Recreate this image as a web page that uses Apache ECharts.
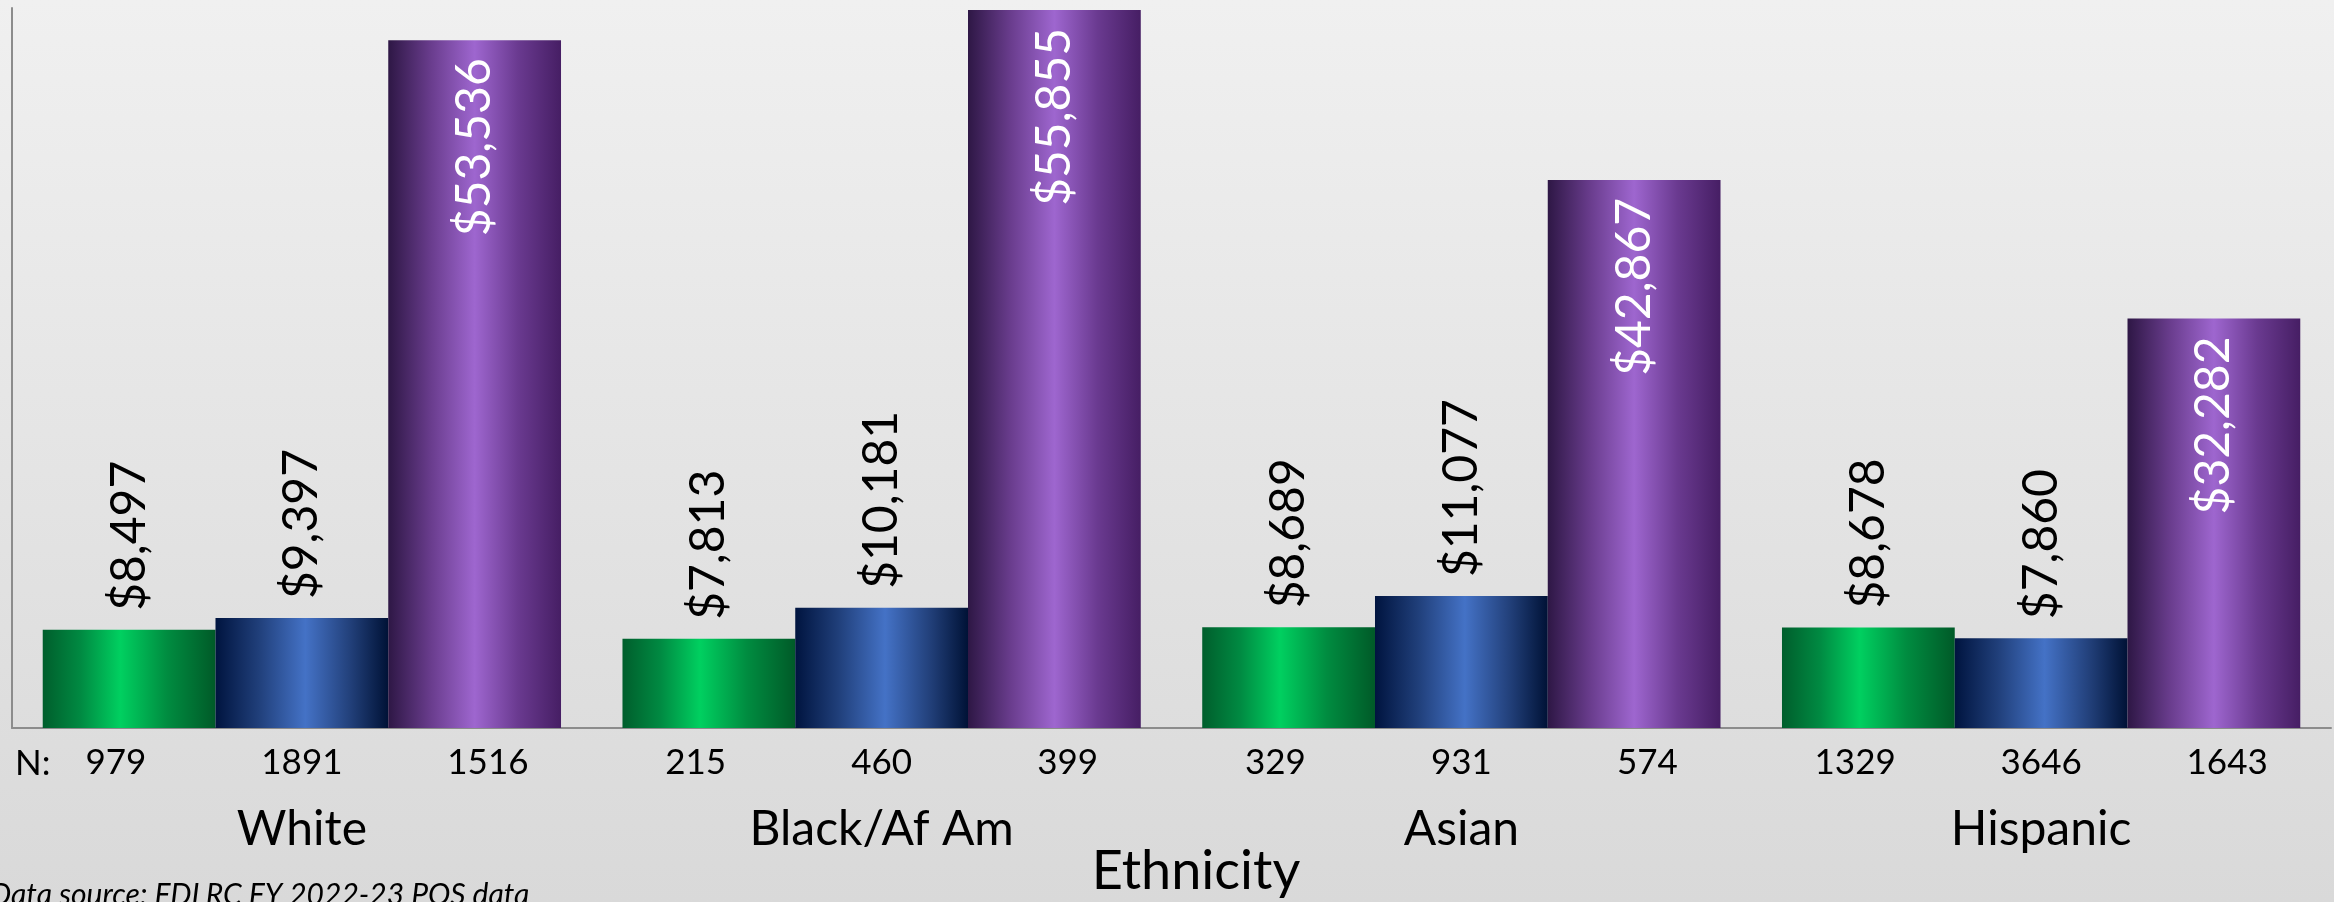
<!DOCTYPE html>
<html>
<head>
<meta charset="utf-8">
<script src="https://cdn.jsdelivr.net/npm/echarts@6/dist/echarts.min.js"></script>
<style>
  html, body { margin: 0; padding: 0; }
  #chart { width: 2334px; height: 902px; }
</style>
</head>
<body>
<div id="chart"></div>
<script>
// Average POS spend per person, by ethnicity, for three groups
const categories = ['White', 'Black/Af Am', 'Asian', 'Hispanic'];
const group1Spend = [8497, 7813, 8689, 8678];
const group2Spend = [9397, 10181, 11077, 7860];
const group3Spend = [53536, 55855, 42867, 32282];

// Number of people (N) behind each bar
const group1Count = [979, 215, 329, 1329];
const group2Count = [1891, 460, 931, 3646];
const group3Count = [1516, 399, 574, 1643];

const axisName = 'Ethnicity';
const sourceNote = 'Data source: FDLRC FY 2022-23 POS data';

const FONT = 'Futura, "Century Gothic", "Tw Cen MT", Lato, sans-serif';

function metal(stops) {
  return {
    type: 'linear', x: 0, y: 0, x2: 1, y2: 0,
    colorStops: stops.map(([offset, color]) => ({ offset, color }))
  };
}

const greenFill = metal([[0, '#005e2c'], [0.22, '#008a42'], [0.45, '#00d060'], [0.72, '#008c40'], [1, '#005a28']]);
const blueFill = metal([[0, '#00143f'], [0.25, '#203f7a'], [0.52, '#4472c6'], [0.78, '#22407a'], [1, '#001236']]);
const purpleFill = metal([[0, '#2e1745'], [0.25, '#6a3d8e'], [0.5, '#9e66cf'], [0.75, '#6a3a90'], [1, '#461e64']]);

const money = v => '$' + v.toLocaleString('en-US');

const outsideLabel = {
  show: true,
  position: 'top',
  rotate: 90,
  align: 'left',
  verticalAlign: 'middle',
  distance: 19,
  color: '#000',
  fontFamily: FONT,
  fontSize: 48,
  formatter: p => money(p.value)
};

const insideLabel = {
  show: true,
  position: 'insideTop',
  rotate: 90,
  align: 'right',
  verticalAlign: 'middle',
  distance: 18,
  color: '#fff',
  fontFamily: FONT,
  fontSize: 48,
  formatter: p => money(p.value)
};

const chart = echarts.init(document.getElementById('chart'), null, { renderer: 'canvas' });

chart.setOption({
  animation: false,
  backgroundColor: {
    type: 'linear', x: 0, y: 0, x2: 0, y2: 1,
    colorStops: [{ offset: 0, color: '#f0f0f0' }, { offset: 1, color: '#d9d9d9' }]
  },
  textStyle: { fontFamily: FONT },
  grid: { left: 12, right: 3, top: 8, bottom: 174, containLabel: false, outerBoundsMode: 'none' },
  xAxis: {
    type: 'category',
    data: categories,
    axisTick: { show: false },
    axisLine: { lineStyle: { color: '#8c8c8c', width: 2 } },
    axisLabel: {
      interval: 0,
      margin: 15,
      color: '#000',
      fontFamily: FONT,
      formatter: (value, i) =>
        `{n|${group1Count[i]}}{n|${group2Count[i]}}{n|${group3Count[i]}}\n{c|${value}}`,
      rich: {
        n: { width: 186, align: 'center', fontSize: 35, lineHeight: 40, color: '#000', fontFamily: FONT },
        c: { fontSize: 48, lineHeight: 94, color: '#000', fontFamily: FONT }
      }
    }
  },
  yAxis: {
    type: 'value',
    min: 1000,
    max: 56000,
    axisLine: { show: true, lineStyle: { color: '#8c8c8c', width: 2 } },
    axisTick: { show: false },
    axisLabel: { show: false },
    splitLine: { show: false }
  },
  series: [
    { name: 'Group 1', type: 'bar', data: group1Spend, barGap: 0, barCategoryGap: '10.6%',
      itemStyle: { color: greenFill }, label: outsideLabel },
    { name: 'Group 2', type: 'bar', data: group2Spend, barGap: 0, barCategoryGap: '10.6%',
      itemStyle: { color: blueFill }, label: outsideLabel },
    { name: 'Group 3', type: 'bar', data: group3Spend, barGap: 0, barCategoryGap: '10.6%',
      itemStyle: { color: purpleFill }, label: insideLabel }
  ],
  graphic: [
    { type: 'text', left: 15, top: 746,
      style: { text: 'N:', fontSize: 35, fontFamily: FONT, fill: '#000' } },
    { type: 'text', x: 1196, y: 872,
      style: { text: axisName, fontSize: 54, fontFamily: FONT, fill: '#000', align: 'center', verticalAlign: 'middle' } },
    { type: 'text', x: -10, y: 880,
      style: { text: sourceNote, fontSize: 30, fontStyle: 'italic', fontFamily: FONT, fill: '#000', align: 'left', verticalAlign: 'top' } }
  ]
});
</script>
</body>
</html>
